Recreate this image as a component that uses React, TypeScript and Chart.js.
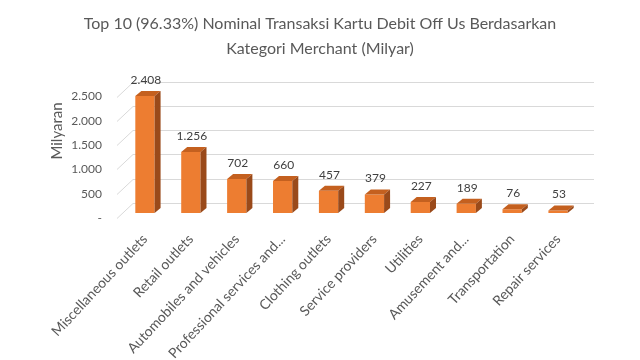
import React, { useEffect, useRef } from 'react';
import { Chart, registerables } from 'chart.js';

Chart.register(...registerables);

const categories = [
  'Miscellaneous outlets',
  'Retail outlets',
  'Automobiles and vehicles',
  'Professional services and...',
  'Clothing outlets',
  'Service providers',
  'Utilities',
  'Amusement and...',
  'Transportation',
  'Repair services',
];
const values = [2408, 1256, 702, 660, 457, 379, 227, 189, 76, 53];
const yTickLabels = ['-', '500', '1.000', '1.500', '2.000', '2.500'];
const titleLines = [
  'Top 10 (96.33%) Nominal Transaksi Kartu Debit Off Us Berdasarkan',
  'Kategori Merchant (Milyar)',
];
const yAxisTitle = 'Milyaran';

const FONT = 'Lato, "Open Sans", sans-serif';
const TEXT = '#595959';
const FRONT = '#ED7D31';
const TOP = '#C4601F';
const SIDE = '#9A4A1A';
const GRID = '#D9D9D9';
const DX = 6;
const DY = 5;

function fmt(v: number): string {
  return String(v).replace(/\B(?=(\d{3})+(?!\d))/g, '.');
}

const titleShift = {
  id: 'titleShift',
  afterLayout(chart: any) {
    const tb = chart.titleBlock;
    if (tb) {
      tb.left = 0;
      tb.right = 640;
    }
  },
};

const wall3d = {
  id: 'wall3d',
  beforeDatasetsDraw(chart: any) {
    const { ctx, chartArea, scales } = chart;
    const ys = scales.y;
    ctx.save();
    ctx.strokeStyle = GRID;
    ctx.lineWidth = 1;
    ys.ticks.forEach((t: any) => {
      const py = Math.round(ys.getPixelForValue(t.value)) + 0.5;
      ctx.beginPath();
      ctx.moveTo(chartArea.left - 5, py + 5);
      ctx.lineTo(chartArea.left + 11, py - 10);
      ctx.lineTo(chartArea.right + 13, py - 10);
      ctx.stroke();
    });
    // y axis title
    ctx.fillStyle = TEXT;
    ctx.font = `15px ${FONT}`;
    ctx.textAlign = 'center';
    ctx.textBaseline = 'middle';
    ctx.translate(57, 131);
    ctx.rotate(-Math.PI / 2);
    ctx.fillText(yAxisTitle, 0, 0);
    ctx.restore();
  },
  afterDatasetsDraw(chart: any) {
    const { ctx } = chart;
    const meta = chart.getDatasetMeta(0);
    ctx.save();
    meta.data.forEach((bar: any, i: number) => {
      const { x, y, base, width } = bar.getProps(['x', 'y', 'base', 'width'], true);
      const l = x - width / 2;
      const r = x + width / 2;
      ctx.fillStyle = TOP;
      ctx.beginPath();
      ctx.moveTo(l, y);
      ctx.lineTo(l + DX, y - DY);
      ctx.lineTo(r + DX, y - DY);
      ctx.lineTo(r, y);
      ctx.closePath();
      ctx.fill();
      ctx.fillStyle = SIDE;
      ctx.beginPath();
      ctx.moveTo(r, y);
      ctx.lineTo(r + DX, y - DY);
      ctx.lineTo(r + DX, base - DY);
      ctx.lineTo(r, base);
      ctx.closePath();
      ctx.fill();
      ctx.fillStyle = '#404040';
      ctx.font = `12px ${FONT}`;
      ctx.textAlign = 'center';
      ctx.textBaseline = 'middle';
      ctx.fillText(fmt(values[i]), x + 1, y - 16);
    });
    ctx.restore();
  },
};

export default function App() {
  const ref = useRef<HTMLCanvasElement>(null);
  useEffect(() => {
    if (!ref.current) return;
    const chart = new Chart(ref.current, {
      type: 'bar',
      data: {
        labels: categories,
        datasets: [
          {
            data: values,
            backgroundColor: FRONT,
            borderWidth: 0,
            barPercentage: 0.42,
            categoryPercentage: 1,
          },
        ],
      },
      options: {
        animation: false,
        responsive: true,
        maintainAspectRatio: false,
        layout: { padding: { left: 0, right: 59, top: 0, bottom: 0 } },
        plugins: {
          legend: { display: false },
          tooltip: { enabled: false },
          title: {
            display: true,
            text: titleLines,
            color: TEXT,
            font: { family: FONT, size: 16, weight: 'normal', lineHeight: 1.5625 },
            padding: { top: 11, bottom: 30.5 },
          },
        },
        scales: {
          x: {
            grid: { display: false, drawTicks: false },
            border: { display: false },
            ticks: {
              color: TEXT,
              font: { family: FONT, size: 14 },
              minRotation: 47,
              maxRotation: 47,
              autoSkip: false,
              padding: 18,
            },
            afterFit(scale: any) {
              scale.height = 147;
            },
          },
          y: {
            min: 0,
            max: 2500,
            grid: { display: false, drawTicks: false },
            border: { display: false },
            ticks: {
              stepSize: 500,
              color: TEXT,
              font: { family: FONT, size: 12 },
              padding: 20,
              labelOffset: 5,
              callback: (_v: any, i: number) => yTickLabels[i],
            },
            afterFit(scale: any) {
              scale.width = 122;
            },
          },
        },
      },
      plugins: [titleShift, wall3d],
    });
    return () => chart.destroy();
  }, []);
  return (
    <div style={{ position: 'absolute', left: 0, top: 0, width: 640, height: 360, background: '#fff' }}>
      <canvas ref={ref} />
    </div>
  );
}
